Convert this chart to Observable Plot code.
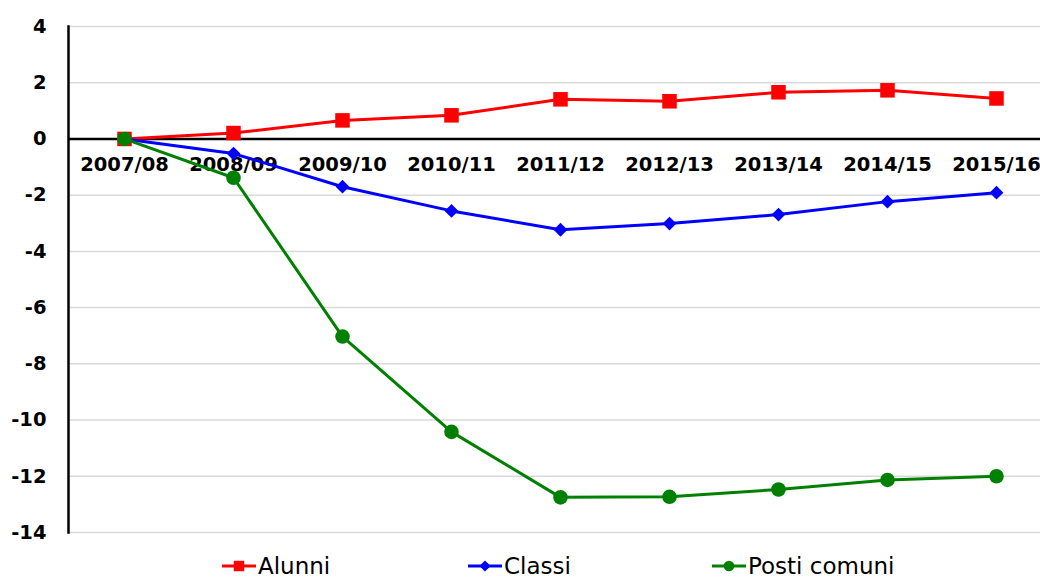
<!DOCTYPE html>
<html>
<head>
<meta charset="utf-8">
<script src="https://cdn.jsdelivr.net/npm/d3@7"></script>
<script src="https://cdn.jsdelivr.net/npm/@observablehq/plot@0.6"></script>
<style>
  html, body { margin: 0; padding: 0; background: #fff; }
  #chart svg { display: block; }
  #legend { position: relative; height: 32px; font-family: "DejaVu Sans", sans-serif; font-size: 23px; color: #000; }
  .item { position: absolute; top: 5px; display: flex; align-items: center; height: 32px; }
  .item svg { display: block; margin-right: 2px; }
</style>
</head>
<body>
<div id="chart"></div>
<div id="legend"></div>
<script>
const years = ["2007/08","2008/09","2009/10","2010/11","2011/12","2012/13","2013/14","2014/15","2015/16"];
const alunni = [0, 0.21, 0.66, 0.84, 1.41, 1.34, 1.66, 1.73, 1.44];
const classi = [0, -0.52, -1.70, -2.56, -3.23, -3.01, -2.69, -2.23, -1.91];
const posti  = [0, -1.38, -7.03, -10.42, -12.75, -12.73, -12.47, -12.13, -12.0];
const yTicks = [-14, -12, -10, -8, -6, -4, -2, 0, 2, 4];
const seriesNames = ["Alunni", "Classi", "Posti comuni"];
const seriesColors = ["#ff0000", "#0000ff", "#008000"];

const toRows = vals => years.map((y, i) => ({year: y, value: vals[i]}));
const rA = toRows(alunni), rC = toRows(classi), rP = toRows(posti);

const font = "DejaVu Sans, sans-serif";

const chart = Plot.plot({
  width: 1040,
  height: 545,
  marginLeft: 68,
  marginRight: 0,
  marginTop: 26,
  marginBottom: 13,
  style: {fontFamily: font, fontSize: "19.5px", fontWeight: "bold", color: "#000", background: "#fff"},
  x: {type: "point", domain: years, range: [68, 1051], padding: 0.5, axis: null},
  y: {domain: [-14, 4], label: null},
  marks: [
    Plot.gridY(yTicks, {stroke: "#d9d9d9", strokeOpacity: 1, strokeWidth: 1.5}),
    Plot.axisY(yTicks, {tickSize: 0, tickPadding: 22, label: null, tickFormat: d => String(d), fontSize: 19.5, fontWeight: "bold", fontVariant: "normal"}),
    Plot.frame({anchor: "left", stroke: "#000", strokeWidth: 2.5}),
    Plot.ruleY([0], {stroke: "#000", strokeWidth: 2.5}),
    Plot.text(years, {x: d => d, y: 0, dy: 26, text: d => d, fontSize: 19.5, fontWeight: "bold"}),
    Plot.line(rA, {x: "year", y: "value", stroke: seriesColors[0], strokeWidth: 3}),
    Plot.dot(rA, {x: "year", y: "value", symbol: "square", r: 8.2, fill: seriesColors[0], stroke: "none"}),
    Plot.line(rC, {x: "year", y: "value", stroke: seriesColors[1], strokeWidth: 3}),
    Plot.dot(rC, {x: "year", y: "value", symbol: "diamond2", r: 6.2, fill: seriesColors[1], stroke: "none"}),
    Plot.line(rP, {x: "year", y: "value", stroke: seriesColors[2], strokeWidth: 3}),
    Plot.dot(rP, {x: "year", y: "value", symbol: "circle", r: 7.3, fill: seriesColors[2], stroke: "none"})
  ]
});
document.getElementById("chart").appendChild(chart);

// Legend
const legend = d3.select("#legend");
const legendLeft = [222, 468, 712];
const symbols = [d3.symbolSquare, d3.symbolDiamond2, d3.symbolCircle];
const sizes = [110, 80, 90];
seriesNames.forEach((name, i) => {
  const item = legend.append("div").attr("class", "item").style("left", legendLeft[i] + "px");
  const sw = item.append("svg").attr("width", 34).attr("height", 20);
  sw.append("line").attr("x1", 0).attr("x2", 34).attr("y1", 10).attr("y2", 10)
    .attr("stroke", seriesColors[i]).attr("stroke-width", 3);
  sw.append("path").attr("d", d3.symbol(symbols[i], sizes[i])())
    .attr("transform", "translate(17,10)").attr("fill", seriesColors[i]);
  item.append("span").text(name);
});
</script>
</body>
</html>
